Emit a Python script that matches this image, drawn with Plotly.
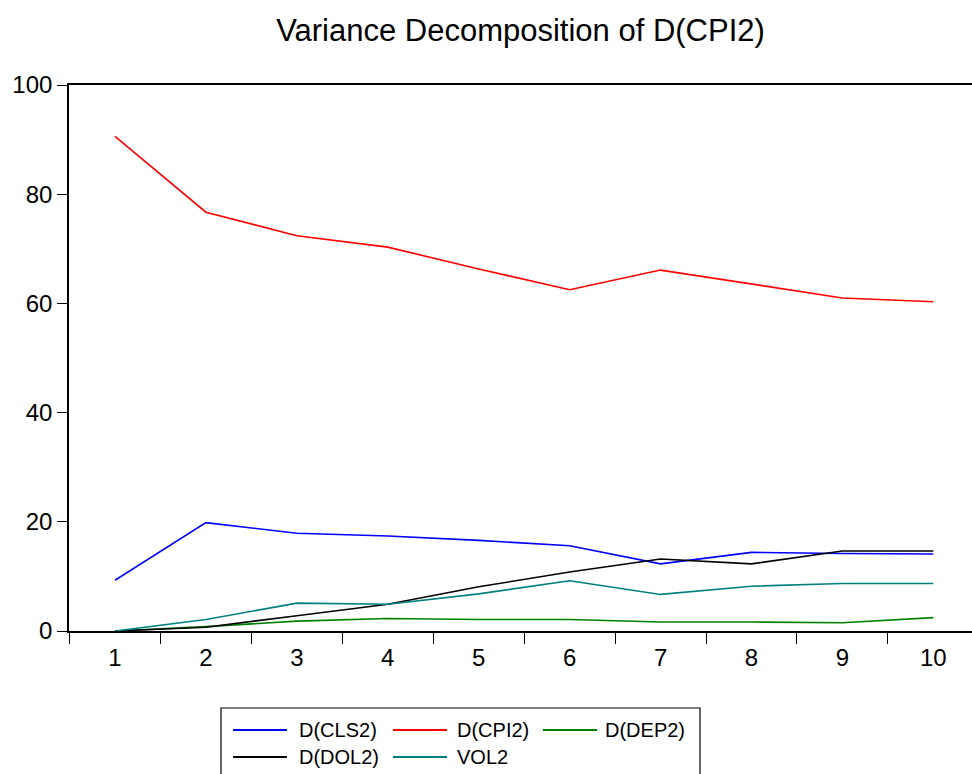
import plotly.graph_objects as go

# Forecast horizon (periods) and variance-decomposition shares (%)
periods = ["1", "2", "3", "4", "5", "6", "7", "8", "9", "10"]
cls2 = [9.3, 19.85, 17.9, 17.4, 16.6, 15.6, 12.3, 14.4, 14.2, 14.1]
cpi2 = [90.6, 76.7, 72.4, 70.3, 66.3, 62.5, 66.1, 63.5, 61.0, 60.3]
dep2 = [0.0, 0.8, 1.8, 2.3, 2.1, 2.1, 1.65, 1.65, 1.5, 2.45]
dol2 = [0.0, 0.7, 2.8, 4.9, 8.1, 10.8, 13.2, 12.3, 14.65, 14.65]
vol2 = [0.0, 2.1, 5.1, 4.9, 6.8, 9.2, 6.7, 8.2, 8.7, 8.7]

series_names = ["D(CLS2)", "D(CPI2)", "D(DEP2)", "D(DOL2)", "VOL2"]
series_colors = ["#0000FF", "#FF0000", "#008000", "#000000", "#008080"]
series_values = [cls2, cpi2, dep2, dol2, vol2]

FONT = "Liberation Sans, Arial, sans-serif"
W, H = 972, 774
ML, MR, MT, MB = 69, 0, 85, 143
PW, PH = W - ML - MR, H - MT - MB


def px_x(x):
    """Pixel x position -> paper coordinate."""
    return (x - ML) / PW


def px_y(y):
    """Pixel y position (from top) -> paper coordinate."""
    return (H - MB - y) / PH


fig = go.Figure()
for name, color, vals in zip(series_names, series_colors, series_values):
    fig.add_trace(go.Scatter(
        x=periods, y=vals, mode="lines", name=name,
        line=dict(color=color, width=1.6), showlegend=False,
    ))

# Boxed legend, three entries per row
shapes = [dict(type="rect", xref="paper", yref="paper",
               x0=px_x(221), x1=px_x(700), y0=px_y(708), y1=px_y(790),
               line=dict(color="black", width=1.2), fillcolor="white",
               layer="above")]
annotations = []
col_line_x = [233, 393, 543]
col_text_x = [297, 455, 603]
row_y = [730, 757]
for i, (name, color) in enumerate(zip(series_names, series_colors)):
    r, c = divmod(i, 3)
    shapes.append(dict(type="line", xref="paper", yref="paper",
                       x0=px_x(col_line_x[c]), x1=px_x(col_line_x[c] + 54),
                       y0=px_y(row_y[r]), y1=px_y(row_y[r]),
                       line=dict(color=color, width=2), layer="above"))
    annotations.append(dict(text=name, xref="paper", yref="paper",
                            x=px_x(col_text_x[c]), y=px_y(row_y[r]),
                            xanchor="left", yanchor="middle", showarrow=False,
                            font=dict(family=FONT, size=20, color="black")))

fig.update_layout(
    width=W, height=H,
    margin=dict(l=ML, r=MR, t=MT, b=MB, autoexpand=False),
    paper_bgcolor="white", plot_bgcolor="white",
    font=dict(family=FONT, size=22, color="black"),
    title=dict(text="Variance Decomposition of D(CPI2)", x=0.5, xref="paper",
               xanchor="center", y=1 - 30 / H, yanchor="middle",
               font=dict(family=FONT, size=31, color="black")),
    showlegend=False,
    shapes=shapes,
    annotations=annotations,
)

fig.update_xaxes(
    type="category", range=[-0.506, 9.425],
    tickson="boundaries", ticks="outside", ticklen=11, tickwidth=1.2,
    tickcolor="black", showline=True, linecolor="black", linewidth=1.6,
    mirror=True, showgrid=False, zeroline=False, ticklabelstandoff=4,
    tickfont=dict(family=FONT, size=24, color="black"),
)
fig.update_yaxes(
    range=[0, 100], tickvals=[0, 20, 40, 60, 80, 100],
    ticks="outside", ticklen=10, tickwidth=1.2, tickcolor="black",
    showline=True, linecolor="black", linewidth=1.6,
    showgrid=False, zeroline=False,
    tickfont=dict(family=FONT, size=24, color="black"),
)

fig.write_html("out.html")
